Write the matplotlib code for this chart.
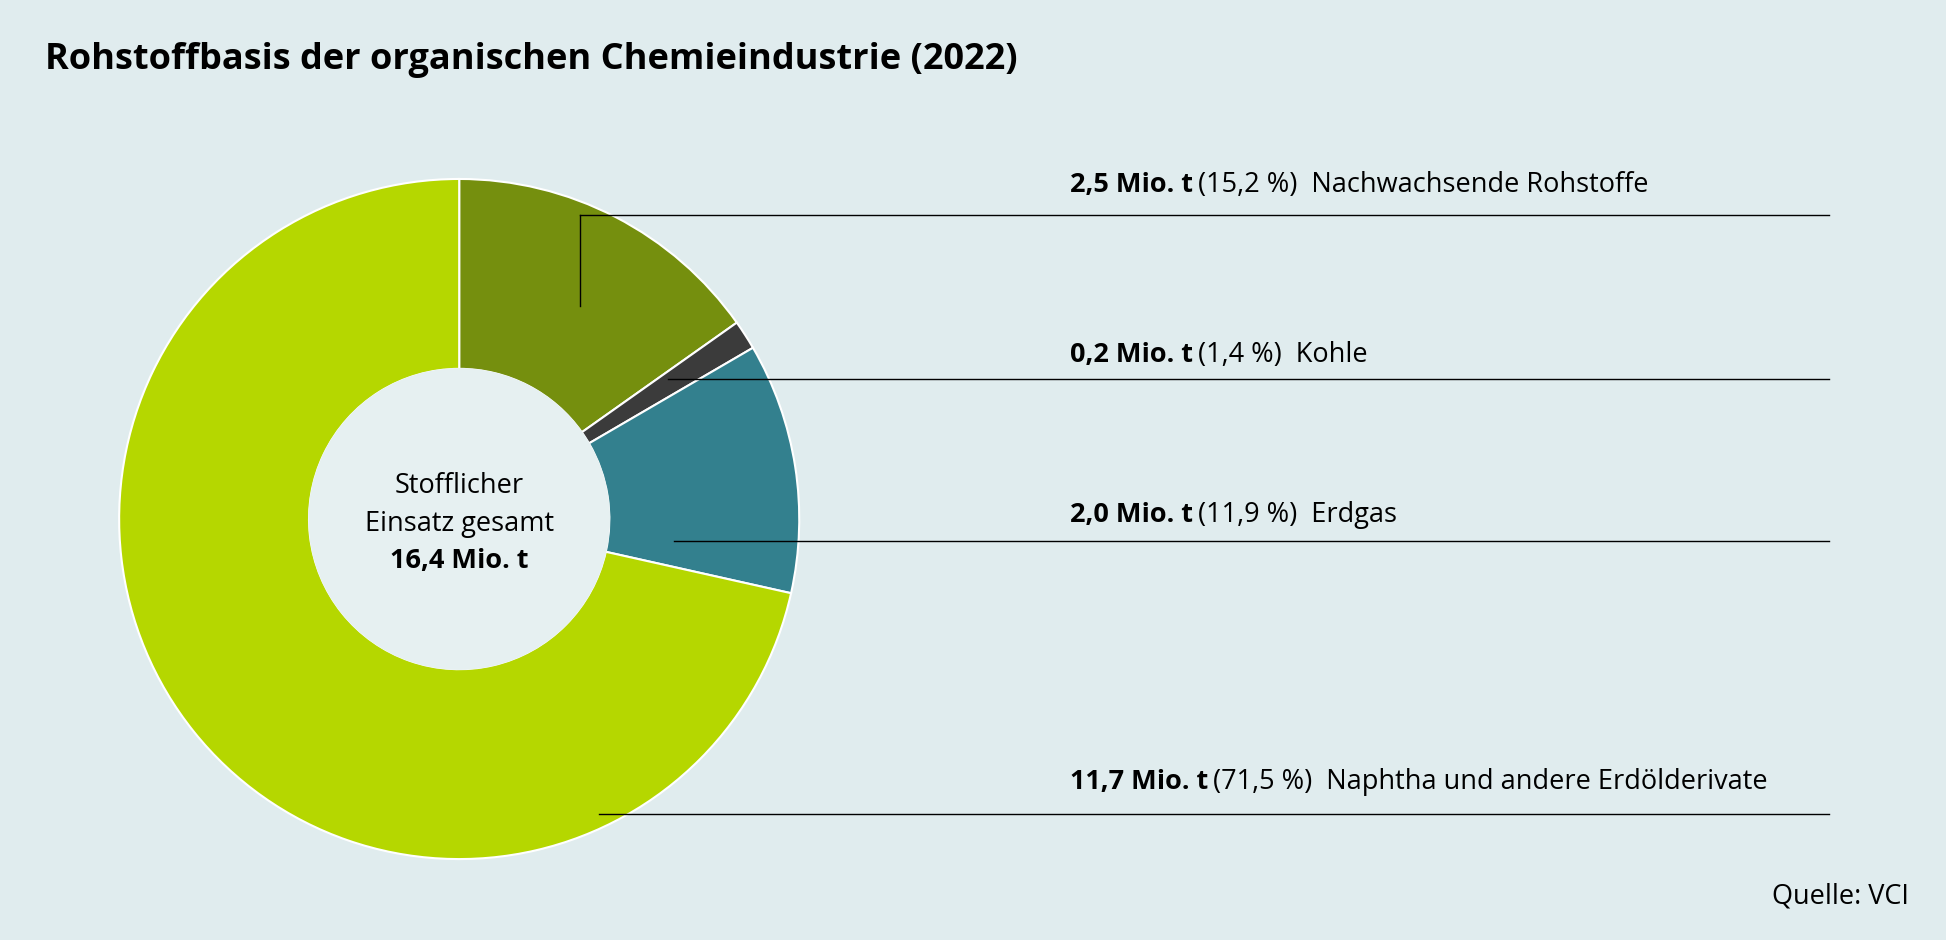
import matplotlib.pyplot as plt

plt.rcParams['font.family'] = 'Open Sans'

labels = ['Nachwachsende Rohstoffe', 'Kohle', 'Erdgas', 'Naphtha und andere Erdölderivate']
amounts = ['2,5 Mio. t', '0,2 Mio. t', '2,0 Mio. t', '11,7 Mio. t']
shares = [15.2, 1.4, 11.9, 71.5]
share_labels = ['(15,2 %)', '(1,4 %)', '(11,9 %)', '(71,5 %)']
colors = ['#758f0e', '#3b3b3b', '#33808e', '#b5d700']

W, H = 1568, 757
bg = '#e0ecee'
fig = plt.figure(figsize=(19.46, 9.40), dpi=100, facecolor=bg)
ax = fig.add_axes([0, 0, 1, 1])
ax.set_facecolor(bg)

def Y(y):
    return H - y

cx, cy, r_out, r_in = 370, 418, 274, 121
ax.pie(shares, colors=colors, startangle=90, counterclock=False,
       center=(cx, Y(cy)), radius=r_out, frame=True,
       wedgeprops=dict(width=r_out - r_in, edgecolor='white', linewidth=1.5))
ax.add_patch(plt.Circle((cx, Y(cy)), r_in, color='#e6f0f1', zorder=3))
ax.set_xlim(0, W)
ax.set_ylim(0, H)
ax.set_aspect('equal')
ax.axis('off')

fs = 19.5
ax.text(cx, Y(391), 'Stofflicher', ha='center', va='center', fontsize=fs, zorder=4)
ax.text(cx, Y(422), 'Einsatz gesamt', ha='center', va='center', fontsize=fs, zorder=4)
ax.text(cx, Y(452), '16,4 Mio. t', ha='center', va='center', fontsize=fs,
        fontweight='bold', zorder=4)

ax.text(36, Y(48), 'Rohstoffbasis der organischen Chemieindustrie (2022)',
        fontsize=26, fontweight='bold', va='center')
ax.text(1538, Y(722), 'Quelle: VCI', fontsize=fs, ha='right', va='center')

# leader lines: (start x, line y, text y)
line_ys = [173, 305, 436, 656]
line_x0 = [467, 538, 543, 483]
text_ys = [149, 286, 415, 630]
ax.plot([467, 467], [Y(246), Y(173)], color='black', lw=1, zorder=5)
for x0, ly in zip(line_x0, line_ys):
    ax.plot([x0, 1474], [Y(ly), Y(ly)], color='black', lw=1, zorder=5)

fig.canvas.draw()
renderer = fig.canvas.get_renderer()
inv = ax.transData.inverted()
for amt, sl, lab, ty in zip(amounts, share_labels, labels, text_ys):
    t = ax.text(862, Y(ty), amt, fontsize=fs, fontweight='bold', va='center')
    bb = t.get_window_extent(renderer)
    x1 = inv.transform((bb.x1, bb.y0))[0]
    ax.text(x1 + 4, Y(ty), sl + '  ' + lab, fontsize=fs, va='center')

fig.savefig('out.png', dpi=100, facecolor=bg)
